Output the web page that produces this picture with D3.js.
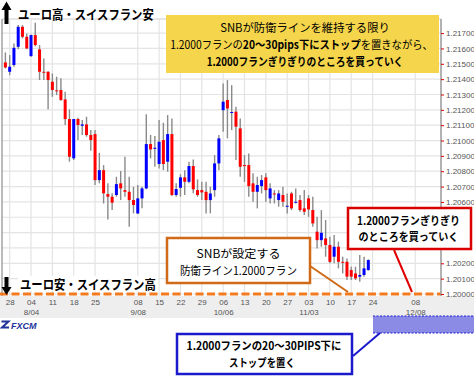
<!DOCTYPE html>
<html><head><meta charset="utf-8">
<script src="https://cdn.jsdelivr.net/npm/d3@7"></script>
<style>
body{margin:0;background:#fff;}
svg{display:block;font-family:"Noto Sans CJK JP","Noto Sans",sans-serif;}
</style>
</head><body>
<svg id="c" width="474" height="378"></svg>
<script>
// ---- data (EUR/CHF daily, 2014) ----
const firstDay = "2014-07-25";
const lastAxisDay = "2014-12-16";
const openV  = [1.21509,1.21448,1.21492,1.21611,1.21741,1.21676,1.21550,1.21687,1.21594,1.21448,
 1.21448,1.21383,1.21327,1.21329,1.21268,1.21140,1.20884,1.21140,1.21096,1.21105,
 1.21036,1.21042,1.20742,1.20807,1.20651,1.20634,1.20645,1.20721,1.20677,1.20666,
 1.20612,1.20525,1.20623,1.20688,1.20977,1.20946,1.20847,1.21003,1.20862,1.21042,
 1.20645,1.20692,1.20760,1.20731,1.20834,1.20677,1.20677,1.20666,1.20612,1.20677,
 1.20851,1.21198,1.21264,1.21183,1.21188,1.21079,1.20840,1.20840,1.20721,1.20666,
 1.20703,1.20760,1.20623,1.20655,1.20612,1.20645,1.20569,1.20655,1.20601,1.20612,
 1.20558,1.20623,1.20547,1.20406,1.20351,1.20362,1.20319,1.20243,1.20308,1.20210,
 1.20210,1.20156,1.20134,1.20113,1.20124,1.20156];
const highV  = [1.21574,1.21557,1.21633,1.21752,1.21752,1.21698,1.21691,1.21767,1.21622,1.21535,
 1.21452,1.21437,1.21416,1.21405,1.21318,1.21203,1.21140,1.21148,1.21133,1.21155,
 1.21068,1.21068,1.20920,1.20840,1.20721,1.20656,1.20764,1.20801,1.20894,1.20764,
 1.20699,1.20710,1.20699,1.21172,1.21036,1.21029,1.21133,1.21116,1.21166,1.21144,
 1.20721,1.20781,1.20807,1.20862,1.20877,1.20747,1.20731,1.20731,1.20699,1.20905,
 1.21036,1.21372,1.21394,1.21361,1.21220,1.21144,1.20905,1.20916,1.20786,1.20764,
 1.20775,1.20786,1.20721,1.20677,1.20677,1.20699,1.20655,1.20666,1.20688,1.20645,
 1.20677,1.20645,1.20634,1.20503,1.20547,1.20482,1.20373,1.20384,1.20341,1.20243,
 1.20232,1.20178,1.20178,1.20254,1.20243,1.20226];
const lowV   = [1.21470,1.21426,1.21481,1.21594,1.21665,1.21594,1.21546,1.21615,1.21394,1.21394,
 1.21203,1.21285,1.21296,1.21259,1.21101,1.20862,1.20873,1.21003,1.21036,1.21025,
 1.20933,1.20710,1.20721,1.20590,1.20486,1.20547,1.20634,1.20612,1.20634,1.20438,
 1.20525,1.20521,1.20558,1.20682,1.20884,1.20829,1.20818,1.20807,1.20797,1.20638,
 1.20634,1.20634,1.20645,1.20721,1.20656,1.20634,1.20612,1.20525,1.20525,1.20634,
 1.20807,1.21057,1.21014,1.21068,1.20873,1.20764,1.20731,1.20634,1.20601,1.20558,
 1.20655,1.20601,1.20590,1.20590,1.20569,1.20569,1.20525,1.20547,1.20590,1.20536,
 1.20514,1.20503,1.20438,1.20297,1.20308,1.20243,1.20200,1.20200,1.20167,1.20134,
 1.20091,1.20091,1.20091,1.20080,1.20113,1.20152];
const closeV = [1.21476,1.21481,1.21604,1.21741,1.21676,1.21600,1.21687,1.21622,1.21448,1.21446,
 1.21394,1.21329,1.21324,1.21264,1.21140,1.20894,1.21140,1.21101,1.21105,1.21036,
 1.21003,1.20742,1.20807,1.20656,1.20634,1.20595,1.20716,1.20688,1.20666,1.20612,
 1.20580,1.20623,1.20688,1.20977,1.20942,1.20953,1.20992,1.20847,1.21042,1.20645,
 1.20684,1.20760,1.20731,1.20834,1.20682,1.20645,1.20662,1.20612,1.20655,1.20851,
 1.21014,1.21253,1.21209,1.21186,1.21090,1.20829,1.20838,1.20703,1.20666,1.20710,
 1.20742,1.20677,1.20688,1.20653,1.20655,1.20601,1.20575,1.20558,1.20601,1.20547,
 1.20536,1.20551,1.20460,1.20351,1.20399,1.20319,1.20210,1.20308,1.20210,1.20208,
 1.20113,1.20113,1.20102,1.20124,1.20167,1.20221];
const yTicks = [1.200,1.201,1.202,1.203,1.204,1.205,1.206,1.207,1.208,1.209,1.210,1.211,1.212,1.213,1.214,1.215,1.216,1.217];
const dayTicks = ["2014-07-28","2014-08-04","2014-08-11","2014-08-18","2014-08-25","2014-09-08","2014-09-15",
 "2014-09-22","2014-09-29","2014-10-06","2014-10-13","2014-10-20","2014-10-27","2014-11-03","2014-11-10",
 "2014-11-17","2014-11-24","2014-12-08"];
const monthTicks = ["2014-08-04","2014-09-08","2014-10-06","2014-11-03","2014-12-08"];
const floorLevel = 1.2000;
const titleUp = "ユーロ高・スイスフラン安";
const titleDown = "ユーロ安・スイスフラン高";

// ---- build ----
const svg = d3.select("#c");
const parse = d3.utcParse("%Y-%m-%d"), fmt = d3.utcFormat("%Y-%m-%d");
const days = d3.utcDay.range(parse(firstDay), d3.utcDay.offset(parse(lastAxisDay),1))
  .filter(d => d.getUTCDay() !== 0 && d.getUTCDay() !== 6).map(fmt);
const candles = openV.map((o,i) => ({d: days[i], o, h: highV[i], l: lowV[i], c: closeV[i]}));

const L = 2, R = 441, T = 19, B = 296;
const x = d3.scalePoint().domain(days).range([5.4, 440.9]);
const y = d3.scaleLinear().domain([1.200, 1.217]).range([294, 33.1]);

// fit a text element horizontally to a target width around anchor point ax
function fit(node, ax, w){
  const bw = node.getBBox().width;
  if (bw > 0) d3.select(node).attr("transform", `translate(${ax},0) scale(${w/bw},1) translate(${-ax},0)`);
}

svg.append("line").attr("x1",L).attr("x2",R).attr("y1",T).attr("y2",T).attr("stroke","#cfcfcf");

// grid
const grid = svg.append("g");
grid.selectAll("line.h").data(yTicks).join("line").attr("class","h")
  .attr("x1",L).attr("x2",R).attr("y1",d=>y(d)).attr("y2",d=>y(d))
  .attr("stroke","#e4e4e4").attr("stroke-width",1.2);
grid.selectAll("line.v").data(dayTicks).join("line").attr("class","v")
  .attr("x1",d=>x(d)).attr("x2",d=>x(d)).attr("y1",T).attr("y2",B)
  .attr("stroke","#e4e4e4").attr("stroke-width",1.2);

// x-axis band
svg.append("rect").attr("x",0).attr("y",B).attr("width",474).attr("height",22).attr("fill","#eeeeee");

// left border
svg.append("line").attr("x1",L).attr("x2",L).attr("y1",T).attr("y2",B).attr("stroke","#777").attr("stroke-width",1);

// candles
const cg = svg.append("g");
cg.selectAll("line").data(candles).join("line")
  .attr("x1",d=>x(d.d)).attr("x2",d=>x(d.d)).attr("y1",d=>y(d.h)).attr("y2",d=>y(d.l))
  .attr("stroke","#8a8a8a").attr("stroke-width",1.4);
cg.selectAll("rect").data(candles).join("rect")
  .attr("x",d=>x(d.d)-1.5).attr("width",3)
  .attr("y",d=>y(Math.max(d.o,d.c)))
  .attr("height",d=>Math.max(1, Math.abs(y(d.o)-y(d.c))))
  .attr("fill",d=>d.c>=d.o ? "#0000ff" : "#ff0000");

// floor line
svg.append("line").attr("x1",0).attr("x2",R).attr("y1",y(floorLevel)).attr("y2",y(floorLevel))
  .attr("stroke","#f47a1f").attr("stroke-width",3).attr("stroke-dasharray","8,3.5");

// right axis
const ay = svg.append("g").attr("transform",`translate(${R},0)`)
  .call(d3.axisRight(y).tickValues(yTicks).tickSize(3).tickPadding(2).tickFormat(d3.format(".5f")));
ay.select(".domain").attr("stroke","#999").attr("stroke-width",1.5).attr("d",`M0,${T}V${B}`);
ay.selectAll(".tick line").attr("stroke","#e00000");
ay.selectAll(".tick text").attr("font-size",8).attr("fill","#555").attr("font-family","Liberation Sans, Arial");
// labels hidden behind the red note in the reference
ay.selectAll(".tick").filter(d => d > 1.2025 && d < 1.2055).select("text").remove();

// bottom axes
const ax = svg.append("g").attr("transform",`translate(0,${B})`)
  .call(d3.axisBottom(x).tickValues(dayTicks).tickSize(0).tickPadding(3).tickFormat(d=>d.slice(8)));
ax.select(".domain").remove();
ax.selectAll("text").attr("font-size",8).attr("fill","#555").attr("font-family","Liberation Sans, Arial");
const am = svg.append("g").attr("transform",`translate(0,${B+10})`)
  .call(d3.axisBottom(x).tickValues(monthTicks).tickSize(0).tickPadding(3)
    .tickFormat(d=>(+d.slice(5,7))+"/"+d.slice(8)));
am.select(".domain").remove();
am.selectAll("text").attr("font-size",8).attr("fill","#555").attr("font-family","Liberation Sans, Arial");

// FXCM logo
const lg = svg.append("g");
lg.append("path").attr("d","M1.5,321.5 h7 l-6.5,6 h7").attr("fill","none").attr("stroke","#22349a").attr("stroke-width",2);
lg.append("text").attr("x",11).attr("y",329).attr("font-size",9).attr("font-weight","bold").attr("font-style","italic")
  .attr("fill","#22349a").attr("font-family","Liberation Sans, Arial").text("FXCM");

// arrows + titles
svg.append("path").attr("d","M1.5,10 L6.5,1.5 L11.5,10 H8.5 V24 H4.5 V10 Z").attr("fill","#000");
const tu = svg.append("text").attr("x",18).attr("y",14).attr("dominant-baseline","central")
  .attr("font-size",13).attr("font-weight","bold").text(titleUp);
fit(tu.node(), 18, 136);
svg.append("rect").attr("x",18).attr("y",276).attr("width",140).attr("height",15).attr("fill","#fff");
svg.append("path").attr("d","M4.5,277 H8.5 V287 H11.5 L6.5,295 L1.5,287 H4.5 Z").attr("fill","#000");
const td = svg.append("text").attr("x",20).attr("y",283.5).attr("dominant-baseline","central")
  .attr("font-size",13).attr("font-weight","bold").text(titleDown);
fit(td.node(), 20, 136);

// yellow note
svg.append("rect").attr("x",166).attr("y",15).attr("width",273).attr("height",58).attr("fill","#f5d54c");
const yt = svg.append("g").attr("font-size",11.5).attr("text-anchor","middle");
const y1 = yt.append("text").attr("x",305).attr("y",27).attr("dominant-baseline","central").text("SNBが防衛ラインを維持する限り");
fit(y1.node(), 305, 170);
const l2 = yt.append("text").attr("x",301.5).attr("y",44).attr("dominant-baseline","central");
l2.append("tspan").text("1.2000フランの");
l2.append("tspan").attr("font-weight","bold").text("20〜30pips下にストップ");
l2.append("tspan").text("を置きながら、");
fit(l2.node(), 301.5, 263);
const y3 = yt.append("text").attr("x",305).attr("y",61).attr("dominant-baseline","central").attr("font-weight","bold")
  .text("1.2000フランぎりぎりのところを買っていく");
fit(y3.node(), 305, 197);

// orange note
svg.append("line").attr("x1",310).attr("y1",266).attr("x2",348).attr("y2",292).attr("stroke","#d06a16").attr("stroke-width",2);
svg.append("rect").attr("x",167).attr("y",238).attr("width",143).attr("height",45)
  .attr("fill","#fff").attr("stroke","#d06a16").attr("stroke-width",2.5);
const ot = svg.append("g").attr("font-size",11.5).attr("text-anchor","middle");
const o1 = ot.append("text").attr("x",238.5).attr("y",252.5).attr("dominant-baseline","central").text("SNBが設定する");
fit(o1.node(), 238.5, 84);
const o2 = ot.append("text").attr("x",238.5).attr("y",270).attr("dominant-baseline","central").text("防衛ライン1.2000フラン");
fit(o2.node(), 238.5, 117);

// red note
svg.append("line").attr("x1",394).attr("y1",250).attr("x2",412).attr("y2",292).attr("stroke","#e00000").attr("stroke-width",2);
svg.append("rect").attr("x",348).attr("y",208).attr("width",123).attr("height",41)
  .attr("fill","#fff").attr("stroke","#d80000").attr("stroke-width",2.5);
const rt = svg.append("g").attr("font-size",11).attr("font-weight","bold").attr("text-anchor","middle");
const r1 = rt.append("text").attr("x",408.5).attr("y",220).attr("dominant-baseline","central").text("1.2000フランぎりぎり");
fit(r1.node(), 408.5, 103);
const r2 = rt.append("text").attr("x",408.5).attr("y",236.5).attr("dominant-baseline","central").text("のところを買っていく");
fit(r2.node(), 408.5, 100);

// blue stop zone + note
svg.append("rect").attr("x",373).attr("y",316).attr("width",101).attr("height",17).attr("fill","#8b8be6");
svg.append("line").attr("x1",373).attr("x2",474).attr("y1",316).attr("y2",316).attr("stroke","#2020d0").attr("stroke-width",1.2).attr("stroke-dasharray","2,1.5");
svg.append("line").attr("x1",373).attr("x2",474).attr("y1",333).attr("y2",333).attr("stroke","#2020d0").attr("stroke-width",1.2).attr("stroke-dasharray","2,1.5");
svg.append("line").attr("x1",353).attr("y1",356).attr("x2",380).attr("y2",333).attr("stroke","#1a1acc").attr("stroke-width",2);
svg.append("rect").attr("x",177).attr("y",334).attr("width",175).attr("height",40)
  .attr("fill","#fff").attr("stroke","#1a1acc").attr("stroke-width",2.5);
const bt = svg.append("g").attr("font-size",11).attr("font-weight","bold").attr("text-anchor","middle");
const b1 = bt.append("text").attr("x",264).attr("y",345.5).attr("dominant-baseline","central").text("1.2000フランの20〜30PIPS下に");
fit(b1.node(), 264, 155);
const b2 = bt.append("text").attr("x",262).attr("y",362).attr("dominant-baseline","central").text("ストップを置く");
fit(b2.node(), 262, 66);
</script>
</body></html>
